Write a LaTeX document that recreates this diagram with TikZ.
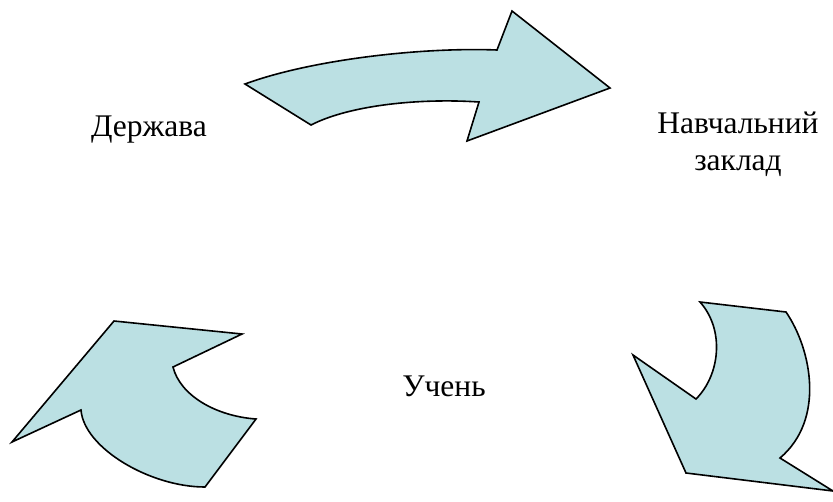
\documentclass[tikz,border=0pt]{standalone}
\usepackage{fontspec}
\setmainfont{Liberation Serif}
\usepackage{tikz}
\definecolor{paleblue}{RGB}{187,224,227}

\begin{document}
\begin{tikzpicture}[
			x=1pt, y=-1pt,
			bigarrow/.style={draw=black,fill=paleblue,line width=1.6pt,line join=miter},
			word/.style={inner sep=0pt,anchor=base,align=center,
			font=\fontsize{31.5}{37}\selectfont}
			]
			\useasboundingbox (0,0) rectangle (833,501);
			% names
			\node[word] (state) at (149,136) {Держава};
			\node[word] (school) at (738,170) {Навчальний\\заклад};
			\node[word] (pupil) at (444,396) {Учень};
			% top arrow
			\draw[bigarrow] (245,84) .. controls (310,60) and (420,47) .. (497,50)
				-- (512,11) -- (610,88) -- (467,141) -- (479,102)
				.. controls (420,98) and (350,105) .. (311,125) -- cycle;
			% right arrow
			\draw[bigarrow] (700,302) -- (786,312)
				.. controls (812,350) and (825,420) .. (780,458)
				-- (833,491) -- (686,473) -- (633,355) -- (696,399)
				.. controls (720,375) and (725,330) .. (700,302) -- cycle;
			% left arrow
			\draw[bigarrow] (114,321) -- (242,334) -- (173,367)
				.. controls (180,395) and (215,416) .. (256,419)
				-- (205,487) .. controls (150,487) and (84,448) .. (81,410)
				-- (12,442) -- cycle;
		\end{tikzpicture}
\end{document}
